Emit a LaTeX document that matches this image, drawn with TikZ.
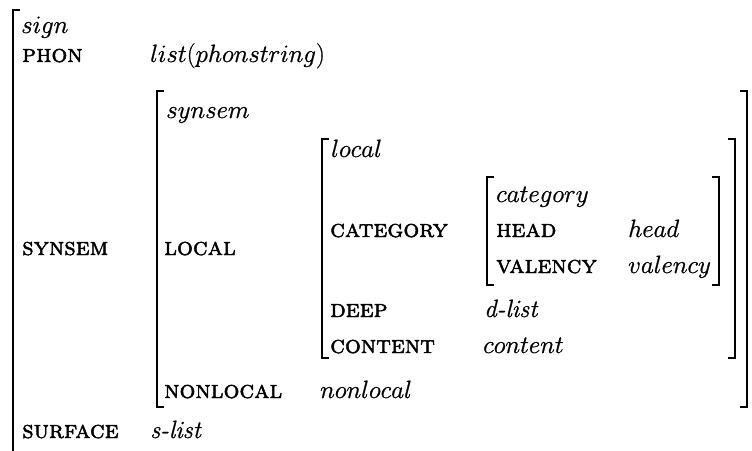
\RequirePackage{fix-cm}
\documentclass[tikz,border=0pt]{standalone}
% Computer Modern small caps for feature names
\newcommand{\featfont}{\fontsize{25}{30}\usefont{OT1}{cmr}{m}{sc}}
% slightly heavier glyphs: fill and stroke the text outlines
\newcommand{\inkheavy}[1]{\special{pdf:code 2 Tr #1 w}}
\begin{document}
\begin{tikzpicture}[x=1pt,y=-1pt,
  feat/.style={anchor=base west,inner sep=0pt,font=\inkheavy{0.45}\featfont},
  val/.style={anchor=base west,inner sep=0pt,font=\inkheavy{0.2}\fontsize{25}{30}\selectfont},
  brk/.style={line width=2.2pt,line cap=butt,line join=miter}]
\useasboundingbox (0,0) rectangle (752,450);

% outer matrix: sign
\draw[brk] (20,10) -- (13,10) -- (13,460);
\node[val]  (sign)  at (21,33)  {$sign$};
\node[feat] (phon)  at (22,62)  {phon};
\node[val]  (phonv) at (150,62) {$list(phonstring)$};
\node[feat] (syn)   at (22,255) {synsem};
\node[feat] (surf)  at (22,438) {surface};
\node[val]  (surfv) at (150,438) {\itshape s-list};

% synsem matrix
\draw[brk] (164,91) -- (157,91) -- (157,407) -- (164,407);
\draw[brk] (740,91) -- (747,91) -- (747,407) -- (740,407);
\node[val]  (synt)  at (166,118) {$synsem$};
\node[feat] (loc)   at (164,255) {local};
\node[feat] (nloc)  at (164,398) {nonlocal};
\node[val]  (nlocv) at (320,398) {$nonlocal$};

% local matrix
\draw[brk] (329,139) -- (322,139) -- (322,358) -- (329,358);
\draw[brk] (728,139) -- (735,139) -- (735,358) -- (728,358);
\node[val]  (loct)  at (331,157) {$local$};
\node[feat] (cat)   at (330,237) {category};
\node[feat] (deep)  at (330,317) {deep};
\node[val]  (deepv) at (484,317) {\itshape d-list};
\node[feat] (cont)  at (330,353) {content};
\node[val]  (contv) at (483,353) {$content$};

% category matrix
\draw[brk] (494,177) -- (487,177) -- (487,285) -- (494,285);
\draw[brk] (712,177) -- (719,177) -- (719,285) -- (712,285);
\node[val]  (catt)  at (496,202) {$category$};
\node[feat] (head)  at (496,237) {head};
\node[val]  (headv) at (628,237) {$head$};
\node[feat] (vale)  at (496,273) {valency};
\node[val]  (valev) at (628,273) {$valency$};
\end{tikzpicture}
\end{document}
